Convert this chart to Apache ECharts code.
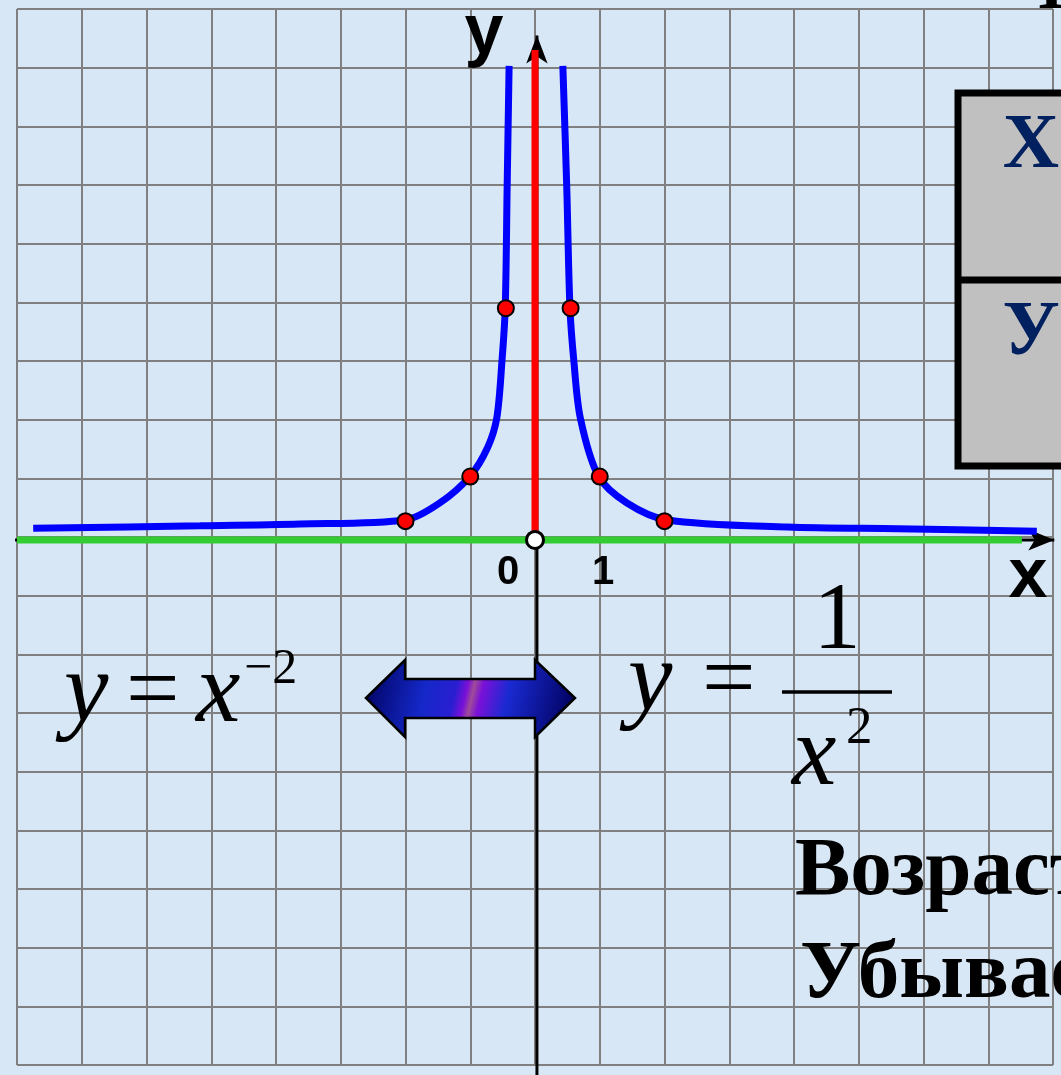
<!DOCTYPE html>
<html>
<head>
<meta charset="utf-8">
<script src="https://cdn.jsdelivr.net/npm/echarts@6/dist/echarts.min.js"></script>
<style>
html,body{margin:0;padding:0;background:#d8e7f5;}
#main{width:1061px;height:1075px;}
</style>
</head>
<body>
<div id="main"></div>
<script>
// y = 1/x^2
var leftX  = [-7.75, -5.17, -3.63, -2.0, -1.47, -1.0, -0.73, -0.59, -0.51, -0.46, -0.43, -0.4];
var leftY  = [0.15, 0.19, 0.22, 0.29, 0.58, 1.04, 1.53, 2.03, 3.0, 3.9, 5.98, 8.03];
var rightX = [0.43, 0.49, 0.54, 0.6, 0.7, 0.98, 1.42, 2.04, 3.9, 5.6, 7.75];
var rightY = [8.03, 5.98, 3.9, 3.0, 2.03, 1.04, 0.58, 0.29, 0.17, 0.14, 0.1];
// marked points
var pointX = [-2, -1, -0.45, 0.55, 1, 2];
var pointY = [0.27, 1.03, 3.9, 3.9, 1.03, 0.27];
// axes extents
var xAxisEnds = [-8.2, 8.02];
var greenEnds = [-8, 7.52];
var yAxisEnds = [-9.3, 8.55];
var redEnds = [-0.05, 8.3];
var axisY = -0.05;

function pairs(xs, ys) {
    var out = [];
    for (var i = 0; i < xs.length; i++) out.push([xs[i], ys[i]]);
    return out;
}

var chart = echarts.init(document.getElementById('main'));

var serif = '"Liberation Serif", "Times New Roman", serif';
var sans = '"Liberation Sans", Arial, sans-serif';

function txt(text, x, y, font, color, align) {
    return {
        type: 'text', z: 110,
        style: {
            text: text, x: x, y: y, font: font, fill: color || '#000',
            align: align || 'left', textAlign: align || 'left',
            verticalAlign: 'middle', textVerticalAlign: 'middle'
        }
    };
}

var option = {
    animation: false,
    backgroundColor: '#d8e7f5',
    grid: { left: 17, top: 9, width: 1036, height: 1056 },
    xAxis: {
        type: 'value', min: -8, max: 8, interval: 1,
        axisLine: { show: false }, axisTick: { show: false }, axisLabel: { show: false },
        splitLine: { show: true, lineStyle: { color: '#808080', width: 2 } }
    },
    yAxis: {
        type: 'value', min: -9, max: 9, interval: 1,
        axisLine: { show: false }, axisTick: { show: false }, axisLabel: { show: false },
        splitLine: { show: true, lineStyle: { color: '#808080', width: 2 } }
    },
    series: [
        { // black x axis with arrow
            type: 'line', clip: false, z: 3, silent: true,
            lineStyle: { color: '#000', width: 3 },
            itemStyle: { color: '#000' },
            data: [
                { value: [xAxisEnds[0], axisY], symbol: 'none' },
                { value: [xAxisEnds[1], axisY], symbol: 'arrow', symbolSize: [16, 26], symbolRotate: -90 }
            ]
        },
        { // black y axis with arrow
            type: 'line', clip: false, z: 3, silent: true,
            lineStyle: { color: '#000', width: 3 },
            itemStyle: { color: '#000' },
            data: [
                { value: [0.03, yAxisEnds[0]], symbol: 'none' },
                { value: [0.03, yAxisEnds[1]], symbol: 'arrow', symbolSize: [16, 28], symbolRotate: 0 }
            ]
        },
        { // green
            type: 'line', clip: false, z: 4, symbol: 'none', silent: true,
            lineStyle: { color: '#33cc33', width: 7 },
            data: [[greenEnds[0], axisY], [greenEnds[1], axisY]]
        },
        { // red
            type: 'line', clip: false, z: 4, symbol: 'none', silent: true,
            lineStyle: { color: '#ff0000', width: 7 },
            data: [[0, redEnds[0]], [0, redEnds[1]]]
        },
        {
            type: 'line', z: 5, symbol: 'none', smooth: 0.3, clip: false,
            lineStyle: { color: '#0000ff', width: 7 },
            data: pairs(leftX, leftY)
        },
        {
            type: 'line', z: 5, symbol: 'none', smooth: 0.3, clip: false,
            lineStyle: { color: '#0000ff', width: 7 },
            data: pairs(rightX, rightY)
        },
        {
            type: 'scatter', z: 6, symbolSize: 16,
            itemStyle: { color: '#ff0000', borderColor: '#000', borderWidth: 2, opacity: 1 },
            data: pairs(pointX, pointY)
        },
        {
            type: 'scatter', z: 7, symbolSize: 17,
            itemStyle: { color: '#ffffff', borderColor: '#000', borderWidth: 3, opacity: 1 },
            data: [[0, axisY]]
        }
    ],
    graphic: [
        // axis letters
        txt('y', 484, 34, 'bold 70px ' + sans, '#000', 'center'),
        txt('x', 1028, 578, 'bold 70px ' + sans, '#000', 'center'),
        txt('0', 508, 573, 'bold 40px ' + sans, '#000', 'center'),
        txt('1', 603, 573, 'bold 40px ' + sans, '#000', 'center'),
        // table box
        {
            type: 'rect', z: 105,
            shape: { x: 958, y: 93, width: 200, height: 373 },
            style: { fill: '#c0c0c0', stroke: '#000', lineWidth: 7 }
        },
        {
            type: 'line', z: 106,
            shape: { x1: 958, y1: 280, x2: 1070, y2: 280 },
            style: { stroke: '#000', lineWidth: 7 }
        },
        txt('Х', 1031, 147, 'bold 78px ' + serif, '#002060', 'center'),
        txt('У', 1031, 334, 'bold 78px ' + serif, '#002060', 'center'),
        txt('Ф', 1018, -12, 'bold 78px ' + serif, '#000', 'left'),
        // y = x^-2
        txt('y', 64, 695, 'italic 100px ' + serif, '#000', 'left'),
        txt('=', 126, 695, '95px ' + serif, '#000', 'left'),
        txt('x', 196, 695, 'italic 100px ' + serif, '#000', 'left'),
        txt('−2', 244, 670, '50px ' + serif, '#000', 'left'),
        // double arrow
        {
            type: 'polygon', z: 104,
            shape: {
                points: [[366, 698], [405, 660], [405, 679], [535, 679], [535, 660],
                         [575, 698], [535, 737], [535, 718], [405, 718], [405, 737]]
            },
            style: {
                fill: new echarts.graphic.LinearGradient(0, 0, 1, 0.6, [
                    { offset: 0, color: '#00005a' },
                    { offset: 0.3, color: '#1428c8' },
                    { offset: 0.44, color: '#2a1ed2' },
                    { offset: 0.49, color: '#7a10d8' },
                    { offset: 0.52, color: '#a04c98' },
                    { offset: 0.56, color: '#7a10d8' },
                    { offset: 0.68, color: '#1a2ad2' },
                    { offset: 1, color: '#00005a' }
                ]),
                stroke: '#000', lineWidth: 2.5
            }
        },
        // y = 1/x^2
        txt('y', 628, 684, 'italic 100px ' + serif, '#000', 'left'),
        txt('=', 702, 684, '95px ' + serif, '#000', 'left'),
        {
            type: 'line', z: 106,
            shape: { x1: 782, y1: 692, x2: 892, y2: 692 },
            style: { stroke: '#000', lineWidth: 3.5 }
        },
        txt('1', 837, 623, '95px ' + serif, '#000', 'center'),
        txt('x', 792, 758, 'italic 100px ' + serif, '#000', 'left'),
        txt('2', 846, 729, '53px ' + serif, '#000', 'left'),
        // monotonicity text
        txt('Возрастает', 795, 873, 'bold 83px ' + serif, '#000', 'left'),
        txt('Убывает', 800, 976, 'bold 83px ' + serif, '#000', 'left')
    ]
};

chart.setOption(option);
</script>
</body>
</html>
